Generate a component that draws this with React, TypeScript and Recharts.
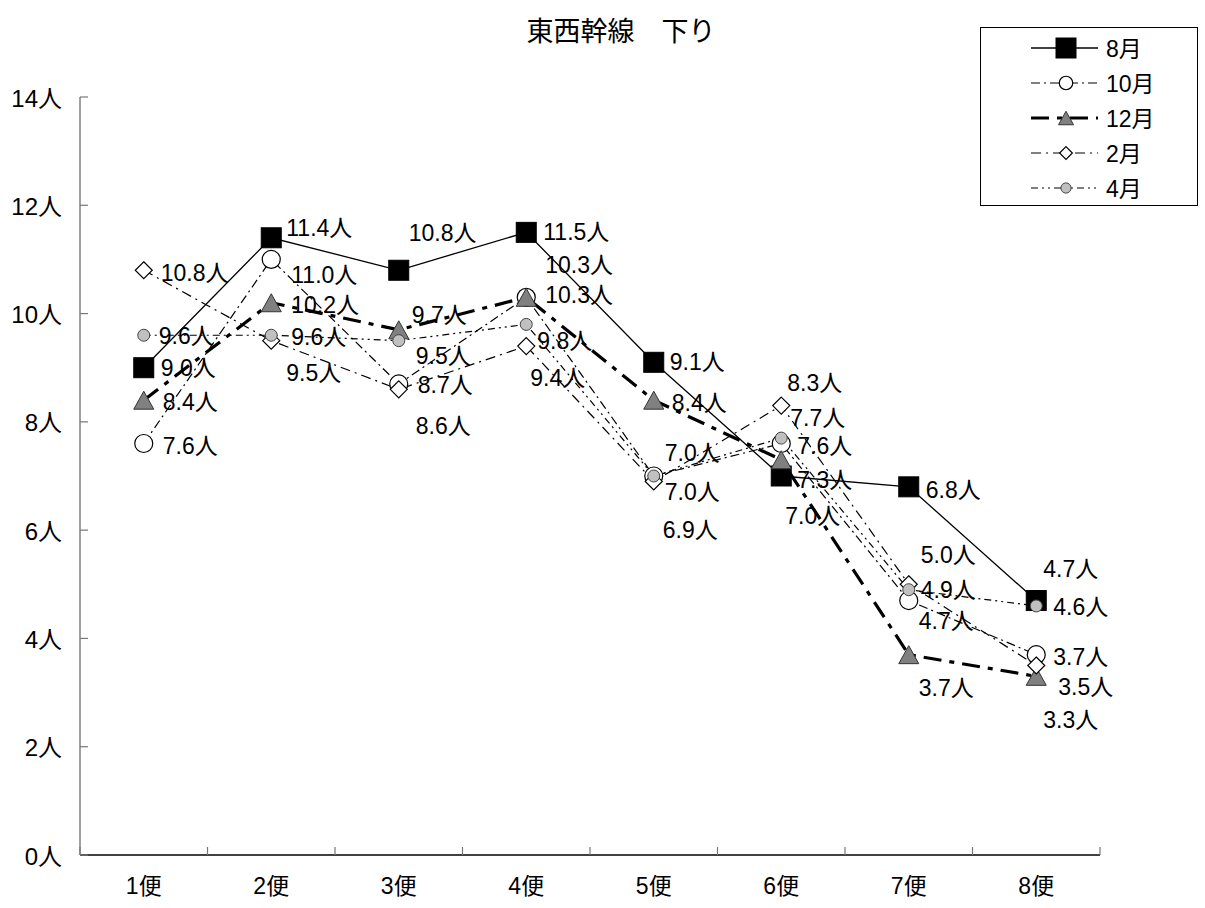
import React from 'react';
import { LineChart, Line, XAxis, YAxis, LabelList, Legend } from 'recharts';

const categories = ['1便', '2便', '3便', '4便', '5便', '6便', '7便', '8便'];
const aug = [9.0, 11.4, 10.8, 11.5, 9.1, 7.0, 6.8, 4.7];
const oct = [7.6, 11.0, 8.7, 10.3, 7.0, 7.6, 4.7, 3.7];
const dec = [8.4, 10.2, 9.7, 10.3, 8.4, 7.3, 3.7, 3.3];
const feb = [10.8, 9.5, 8.6, 9.4, 6.9, 8.3, 5.0, 3.5];
const apr = [9.6, 9.6, 9.5, 9.8, 7.0, 7.7, 4.9, 4.6];
const seriesNames = ['8月', '10月', '12月', '2月', '4月'];
const yTicks = [0, 2, 4, 6, 8, 10, 12, 14];
const title = '東西幹線　下り';
const unit = '人';

const data = categories.map((c, i) => ({
  x: i + 1,
  cat: c,
  aug: aug[i],
  oct: oct[i],
  dec: dec[i],
  feb: feb[i],
  apr: apr[i],
}));

// label placement (pixel offsets from each point)
const labelOffsets: Record<string, [number, number][]> = {
  aug: [[17, 0], [15, -10], [10, -37], [17, 0], [16, 0], [4, 40], [17, 3], [7, -32]],
  oct: [[19, 2], [20, 16], [19, 1], [19, -32], [11, -23], [16, 2], [10, 20], [17, 2]],
  dec: [[19, 2], [20, 2], [13, -15], [19, -2], [18, 3], [16, 20], [10, 33], [7, 44]],
  feb: [[17, 3], [15, 32], [17, 37], [4, 32], [9, 49], [6, -23], [12, -29], [22, 21]],
  apr: [[15, 1], [20, 2], [17, 15], [11, 17], [11, 16], [9, -20], [12, 0], [17, 1]],
};

const FONT = "'Liberation Sans', 'Noto Sans CJK JP', sans-serif";

type MarkerKind = 'square' | 'circle' | 'triangle' | 'diamond' | 'dot';

const Marker = ({ kind, cx, cy, legend }: { kind: MarkerKind; cx: number; cy: number; legend?: boolean }) => {
  const k = legend ? 0.75 : 1;
  if (kind === 'square') {
    const s = 20;
    return <rect x={cx - s / 2} y={cy - s / 2} width={s} height={s} fill="#000" stroke="#000" />;
  }
  if (kind === 'circle') {
    return <circle cx={cx} cy={cy} r={9 * k} fill="#fff" stroke="#000" strokeWidth={1.2} />;
  }
  if (kind === 'triangle') {
    const w = 20 * k;
    const h = 18 * k;
    return (
      <polygon
        points={`${cx},${cy - h / 2} ${cx + w / 2},${cy + h / 2} ${cx - w / 2},${cy + h / 2}`}
        fill="#808080"
        stroke="#333"
        strokeWidth={1}
      />
    );
  }
  if (kind === 'diamond') {
    const r = 8.5 * k;
    return (
      <polygon
        points={`${cx},${cy - r} ${cx + r},${cy} ${cx},${cy + r} ${cx - r},${cy}`}
        fill="#fff"
        stroke="#000"
        strokeWidth={1.2}
      />
    );
  }
  return <circle cx={cx} cy={cy} r={6 * (legend ? 0.85 : 1)} fill="#c0c0c0" stroke="#444" strokeWidth={1} />;
};

const series = [
  { key: 'aug', name: seriesNames[0], marker: 'square' as MarkerKind, width: 1.3, dash: undefined as string | undefined },
  { key: 'oct', name: seriesNames[1], marker: 'circle' as MarkerKind, width: 1.2, dash: '9 4 2 4' },
  { key: 'dec', name: seriesNames[2], marker: 'triangle' as MarkerKind, width: 3.2, dash: '18 8 5 8' },
  { key: 'feb', name: seriesNames[3], marker: 'diamond' as MarkerKind, width: 1.2, dash: '10 5 2 5' },
  { key: 'apr', name: seriesNames[4], marker: 'dot' as MarkerKind, width: 1.2, dash: '7 4 2 4 2 4' },
];

const makeLabel = (key: string) => (props: any) => {
  const { x, y, value, index } = props;
  if (value == null || x == null) return null;
  const off = labelOffsets[key][index] || [15, 0];
  return (
    <text
      key={`lbl-${key}-${index}`}
      x={x + off[0]}
      y={y + off[1]}
      textAnchor="start"
      dominantBaseline="central"
      fontSize={23}
      fontFamily={FONT}
      fill="#000"
    >
      {Number(value).toFixed(1) + unit}
    </text>
  );
};

const makeDot = (kind: MarkerKind, key: string) => (props: any) => {
  const { cx, cy, index } = props;
  if (cx == null || cy == null) return <g key={`d-${key}-${index}`} />;
  return (
    <g key={`d-${key}-${index}`}>
      <Marker kind={kind} cx={cx} cy={cy} />
    </g>
  );
};

const XTick = (props: any) => {
  const { x, y, payload } = props;
  const v = payload.value;
  if (Number.isInteger(v)) {
    return (
      <text x={x} y={y + 31} textAnchor="middle" dominantBaseline="central" fontSize={23} fontFamily={FONT} fill="#000">
        {categories[v - 1]}
      </text>
    );
  }
  return <line x1={x} x2={x} y1={y} y2={y - 8} stroke="#777" strokeWidth={1.2} />;
};

const YTick = (props: any) => {
  const { x, y, payload } = props;
  return (
    <g>
      <line x1={x} x2={x + 8} y1={y} y2={y} stroke="#777" strokeWidth={1.2} />
      <text x={x - 18} y={y + 1} textAnchor="end" dominantBaseline="central" fontSize={24} fontFamily={FONT} fill="#000">
        {payload.value + unit}
      </text>
    </g>
  );
};

const LegendBox = () => (
  <svg width={218} height={179} style={{ display: 'block' }}>
    <rect x={0.5} y={0.5} width={217} height={178} fill="#fff" stroke="#000" strokeWidth={1} />
    {series.map((s, i) => {
      const cy = 21 + i * 35;
      return (
        <g key={s.key}>
          <line x1={51} x2={118} y1={cy} y2={cy} stroke="#000" strokeWidth={s.width} strokeDasharray={s.dash} />
          <Marker kind={s.marker} cx={86} cy={cy} legend />
          <text x={126} y={cy + 1} dominantBaseline="central" fontSize={23} fontFamily={FONT} fill="#000">
            {s.name}
          </text>
        </g>
      );
    })}
  </svg>
);

const xEdgeTicks = [0.5, 1, 1.5, 2, 2.5, 3, 3.5, 4, 4.5, 5, 5.5, 6, 6.5, 7, 7.5, 8, 8.5];

export default function App() {
  return (
    <div style={{ position: 'absolute', left: 0, top: 0, width: 1205, height: 908, background: '#fff' }}>
      <div
        style={{
          position: 'absolute',
          left: 421,
          top: 12,
          width: 400,
          textAlign: 'center',
          fontSize: 27,
          fontFamily: "'Noto Sans CJK JP', sans-serif",
          color: '#000',
          lineHeight: '36px',
        }}
      >
        {title}
      </div>
      <LineChart
        width={1205}
        height={908}
        data={data}
        margin={{ top: 97, right: 105, bottom: 13, left: 0 }}
        style={{ position: 'absolute', left: 0, top: 0 }}
      >
        <XAxis
          dataKey="x"
          type="number"
          domain={[0.5, 8.5]}
          ticks={xEdgeTicks}
          interval={0}
          tickLine={false}
          tickSize={0}
          tickMargin={0}
          height={40}
          axisLine={{ stroke: '#000', strokeWidth: 1.5 }}
          tick={<XTick />}
        />
        <YAxis
          type="number"
          domain={[0, 14]}
          ticks={yTicks}
          interval={0}
          width={80}
          tickLine={false}
          tickSize={0}
          tickMargin={0}
          axisLine={{ stroke: '#808080', strokeWidth: 1.5 }}
          tick={<YTick />}
        />
        <Legend
          layout="vertical"
          align="center"
          verticalAlign="middle"
          wrapperStyle={{ left: 980, top: 27, width: 218, height: 179 }}
          content={() => <LegendBox />}
        />
        {series.map((s) => (
          <Line
            key={s.key}
            dataKey={s.key}
            name={s.name}
            type="linear"
            stroke="#000"
            strokeWidth={s.width}
            strokeDasharray={s.dash}
            dot={makeDot(s.marker, s.key)}
            activeDot={false}
            isAnimationActive={false}
          >
            <LabelList dataKey={s.key} content={makeLabel(s.key)} />
          </Line>
        ))}
      </LineChart>
    </div>
  );
}
